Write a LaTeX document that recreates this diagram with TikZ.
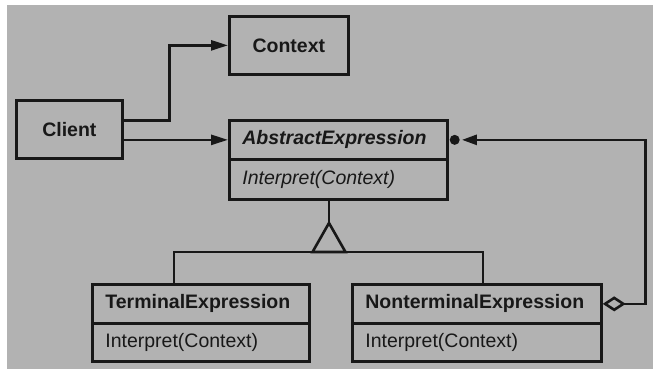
\documentclass[tikz,border=0pt]{standalone}
\usepackage{fontspec}
\setmainfont{Liberation Sans}
\usetikzlibrary{arrows.meta,calc}
\definecolor{bg}{RGB}{178,178,178}
\definecolor{ink}{RGB}{24,24,24}
\begin{document}
\begin{tikzpicture}[x=1pt,y=-1pt,
  every node/.style={font=\fontsize{19.5}{22}\selectfont, text=ink},
  box/.style={draw=ink, line width=2.7pt, inner sep=0pt, anchor=north west},
  cls/.style={box, align=left, inner xsep=13pt, text height=14pt, text depth=4pt},
  conn/.style={draw=ink, line width=2.6pt},
  arr/.style={conn, -{Triangle[length=17pt,width=10pt]}}
]
\useasboundingbox (0,0) rectangle (653,370);
\fill[white] (0,0) rectangle (653,370);
\fill[bg] (7,5) rectangle (653,369);

% Context and Client
\node[box, minimum width=119pt, minimum height=58pt, font=\bfseries\fontsize{19.5}{22}\selectfont] (context) at (228,15) {Context};
\node[box, minimum width=106pt, minimum height=58pt, font=\bfseries\fontsize{19.5}{22}\selectfont] (client) at (15,99) {Client};

% AbstractExpression
\node[cls, text width=192pt, minimum height=39pt, font=\bfseries\itshape\fontsize{19.5}{22}\selectfont] (abstitle) at (228,119) {AbstractExpression};
\node[cls, text width=192pt, minimum height=40pt, font=\itshape\fontsize{19.5}{22}\selectfont] (absop) at (228,158) {Interpret(Context)};

% TerminalExpression
\node[cls, text width=191pt, minimum height=39pt, font=\bfseries\fontsize{19.5}{22}\selectfont] (termtitle) at (91,283) {TerminalExpression};
\node[cls, text width=191pt, minimum height=38pt] (termop) at (91,322) {Interpret(Context)};

% NonterminalExpression
\node[cls, text width=223pt, minimum height=39pt, font=\bfseries\fontsize{19.5}{22}\selectfont] (nttitle) at (351,283) {NonterminalExpression};
\node[cls, text width=223pt, minimum height=38pt] (ntop) at (351,322) {Interpret(Context)};

% Client associations
\draw[arr] ([yshift=9pt]client.east) -- ++(46,0) |- (context.west);
\draw[arr] (client.east |- abstitle.west) -- (abstitle.west);

% Inheritance
\coordinate (apex) at (329,223);
\coordinate (barL) at (174,252);
\coordinate (barR) at (483,252);
\draw[conn] (apex |- absop.south) -- (apex);
\draw[conn, line join=miter] (apex) -- ++(-16.5,29) -- ++(33,0) -- cycle;
\draw[conn] (barL |- termtitle.north) -- (barL) -- (barR) -- (barR |- nttitle.north);

% Aggregation (children)
\node[circle, fill=ink, inner sep=0pt, minimum size=10pt] (dot) at ([xshift=6pt]abstitle.east) {};
\draw[conn, {Diamond[open,length=23pt,width=15pt,fill=bg]}-{Triangle[length=15pt,width=10pt]}]
  (nttitle.east) -- ++(43,0) |- ([xshift=2pt]dot.east);
\end{tikzpicture}
\end{document}
